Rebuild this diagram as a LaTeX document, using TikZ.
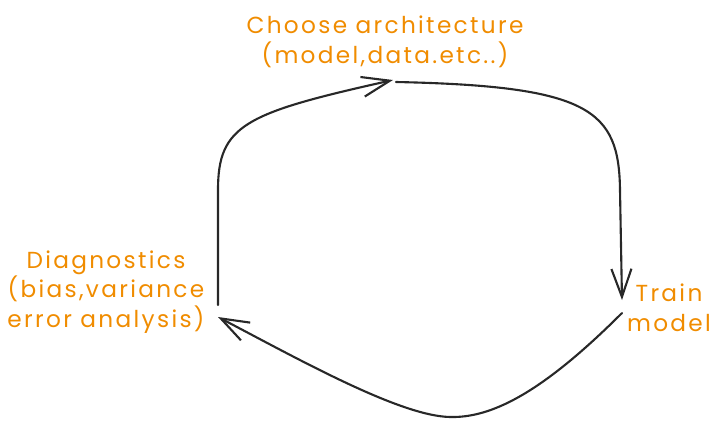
\documentclass[tikz,border=0pt]{standalone}
\usepackage{fontspec}
\setmainfont[LetterSpace = 10]{Poppins}
\usetikzlibrary{arrows.meta}
\definecolor{labelorange}{RGB}{240,140,0}
\definecolor{strokegray}{RGB}{40,40,40}

\begin{document}
\begin{tikzpicture}[x = 0.025cm, y = -0.025cm, font = \fontsize{16.5}{21}\selectfont]
	\tikzstyle{labelStyle} = [text = labelorange, align = center, inner sep = 0pt]
	\tikzstyle{flowStyle} = [draw = strokegray, line width = 1.5pt, line cap = round, line join = round, -{Straight Barb[length = 7mm, width = 5mm]}]
	\useasboundingbox (0,0) rectangle (718,429);
	\node[labelStyle] (arch) at (385,42) {Choose architecture\\(model,data.etc..)};
	\node[labelStyle] (diag) at (106,292) {Diagnostics\\(bias,variance\\error analysis)};
	\node[labelStyle] (train) at (669,308) {Train\\model};
	\coordinate (archIn) at (393,80);
	\coordinate (archOut) at (396,82);
	\coordinate (trainIn) at (622,300);
	\coordinate (trainOut) at (622,313);
	\coordinate (diagIn) at (218,317);
	\coordinate (diagOut) at (218,305);
	\draw[flowStyle] (diagOut) -- (218,190) .. controls (218,125) and (245,113) .. (archIn);
	\draw[flowStyle] (archOut) .. controls (590,86) and (619,110) .. (620,190) -- (trainIn);
	\draw[flowStyle] (trainOut) .. controls (540,395) and (490,418) .. (450,417) .. controls (400,416) and (300,360) .. (diagIn);
\end{tikzpicture}
\end{document}
